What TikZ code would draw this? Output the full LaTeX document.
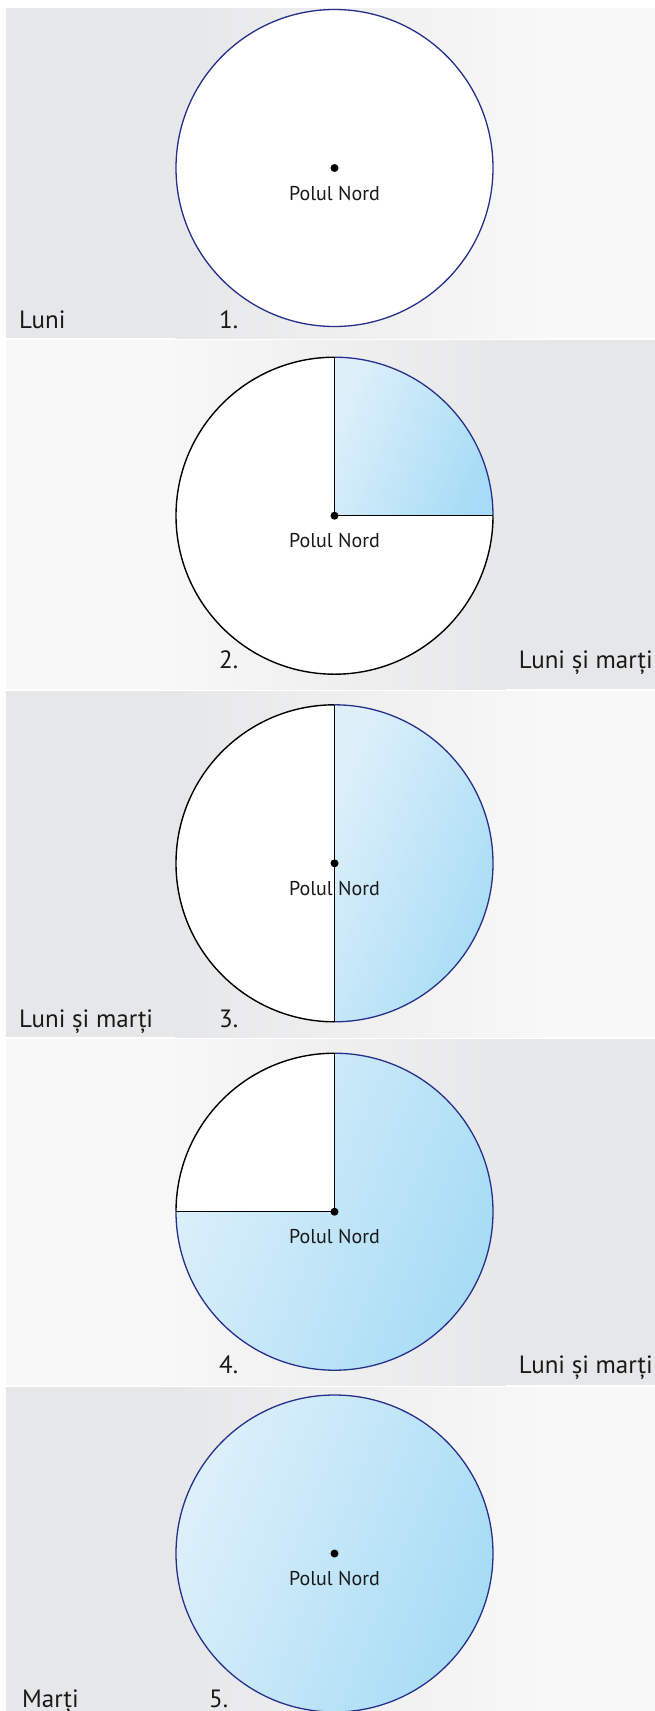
\documentclass[tikz,border=0pt]{standalone}
\usepackage{fontspec}
\setmainfont{PT Sans}
\usetikzlibrary{calc}
\definecolor{bandgray}{HTML}{E6E7E8}
\definecolor{bandlight}{HTML}{F8F8F8}
\definecolor{skylight}{HTML}{DDF0FA}
\definecolor{skydark}{HTML}{A6DCF5}
\definecolor{rimblue}{HTML}{26308A}
\tikzset{
  blackrim/.style={draw=black, line width=1.4pt},
  bluerim/.style={draw=rimblue, line width=1.3pt},
  skyfill/.style={top color=skylight, bottom color=skydark, shading angle=68},
  pole/.style={circle, fill=black, inner sep=0pt, minimum size=8pt},
  polelabel/.style={font=\fontsize{20}{22}\selectfont, inner sep=0pt, anchor=base, text=black!90},
  daylabel/.style={font=\fontsize{25}{29}\selectfont, inner sep=0pt, text=black!90},
}
\newcommand{\bandLR}[2]{% dark left -> light right, y top, y bottom
  \fill[bandgray] (6,-#1) rectangle (176,-#2);
  \shade[left color=bandgray, right color=bandlight] (175,-#1) rectangle (546,-#2);
  \fill[bandlight] (545,-#1) rectangle (655,-#2);
}
\newcommand{\bandRL}[2]{% light left -> dark right
  \fill[bandlight] (6,-#1) rectangle (161,-#2);
  \shade[left color=bandlight, right color=bandgray] (160,-#1) rectangle (506,-#2);
  \fill[bandgray] (505,-#1) rectangle (655,-#2);
}
\begin{document}
\begin{tikzpicture}[x=1pt, y=1pt]
\useasboundingbox (0,0) rectangle (655,-1711);
\fill[white] (0,0) rectangle (655,-1711);
% bands
\bandLR{8}{338}
\bandRL{340}{689}
\bandLR{691}{1037}
\bandRL{1039}{1385}
\bandLR{1387}{1711}
\def\R{158.5}
% ---------- panel 1
\coordinate (c1) at (334.5,-168);
\fill[white] (c1) circle (\R);
\draw[bluerim] (c1) circle (\R);
\node[pole] (p1) at (c1) {};
\node[polelabel] (l1) at (334.5,-200) {Polul Nord};
\node[daylabel, anchor=base west] (d1) at (19,-328) {Luni};
\node[daylabel, anchor=base west] (n1) at (219,-328) {1.};
% ---------- panel 2
\coordinate (c2) at (334.5,-515.7);
\fill[white] (c2) circle (\R);
\shade[skyfill] (c2) -- ++(90:\R) arc[start angle=90, end angle=0, radius=\R] -- cycle;
\draw[blackrim] (c2) ++(90:\R) arc[start angle=90, end angle=360, radius=\R];
\draw[bluerim] (c2) ++(90:\R) arc[start angle=90, end angle=0, radius=\R];
\coordinate (t2) at ($(c2)+(90:\R)$);
\coordinate (r2) at ($(c2)+(0:\R)$);
\draw[blackrim] (t2) -- (c2) -- (r2);
\node[pole] (p2) at (c2) {};
\node[polelabel] (l2) at (334.5,-547.7) {Polul Nord};
\node[daylabel, anchor=base west] (n2) at (219,-668) {2.};
\node[daylabel, anchor=base east] (d2) at (653,-668) {Luni și marți};
% ---------- panel 3
\coordinate (c3) at (334.5,-863.3);
\fill[white] (c3) circle (\R);
\shade[skyfill] (c3) -- ++(90:\R) arc[start angle=90, end angle=-90, radius=\R] -- cycle;
\draw[blackrim] (c3) ++(90:\R) arc[start angle=90, end angle=270, radius=\R];
\draw[bluerim] (c3) ++(90:\R) arc[start angle=90, end angle=-90, radius=\R];
\node[polelabel] (l3) at (334.5,-895.3) {Polul Nord};
\coordinate (t3) at ($(c3)+(90:\R)$);
\coordinate (b3) at ($(c3)+(-90:\R)$);
\draw[blackrim] (t3) -- (b3);
\node[pole] (p3) at (c3) {};
\node[daylabel, anchor=base west] (d3) at (19,-1027) {Luni și marți};
\node[daylabel, anchor=base west] (n3) at (219,-1027) {3.};
% ---------- panel 4
\coordinate (c4) at (334.5,-1211.7);
\fill[white] (c4) circle (\R);
\shade[skyfill] (c4) -- ++(180:\R) arc[start angle=180, end angle=450, radius=\R] -- cycle;
\draw[blackrim] (c4) ++(90:\R) arc[start angle=90, end angle=180, radius=\R];
\draw[bluerim] (c4) ++(180:\R) arc[start angle=180, end angle=450, radius=\R];
\coordinate (t4) at ($(c4)+(90:\R)$);
\coordinate (w4) at ($(c4)+(180:\R)$);
\draw[blackrim] (t4) -- (c4) -- (w4);
\node[pole] (p4) at (c4) {};
\node[polelabel] (l4) at (334.5,-1243.7) {Polul Nord};
\node[daylabel, anchor=base west] (n4) at (219,-1373) {4.};
\node[daylabel, anchor=base east] (d4) at (653,-1373) {Luni și marți};
% ---------- panel 5
\coordinate (c5) at (334.5,-1553.5);
\shade[skyfill] (c5) circle (\R);
\draw[bluerim] (c5) circle (\R);
\node[pole] (p5) at (c5) {};
\node[polelabel] (l5) at (334.5,-1585.5) {Polul Nord};
\node[daylabel, anchor=base west] (d5) at (22,-1707) {Marți};
\node[daylabel, anchor=base west] (n5) at (209,-1707) {5.};
\end{tikzpicture}
\end{document}
